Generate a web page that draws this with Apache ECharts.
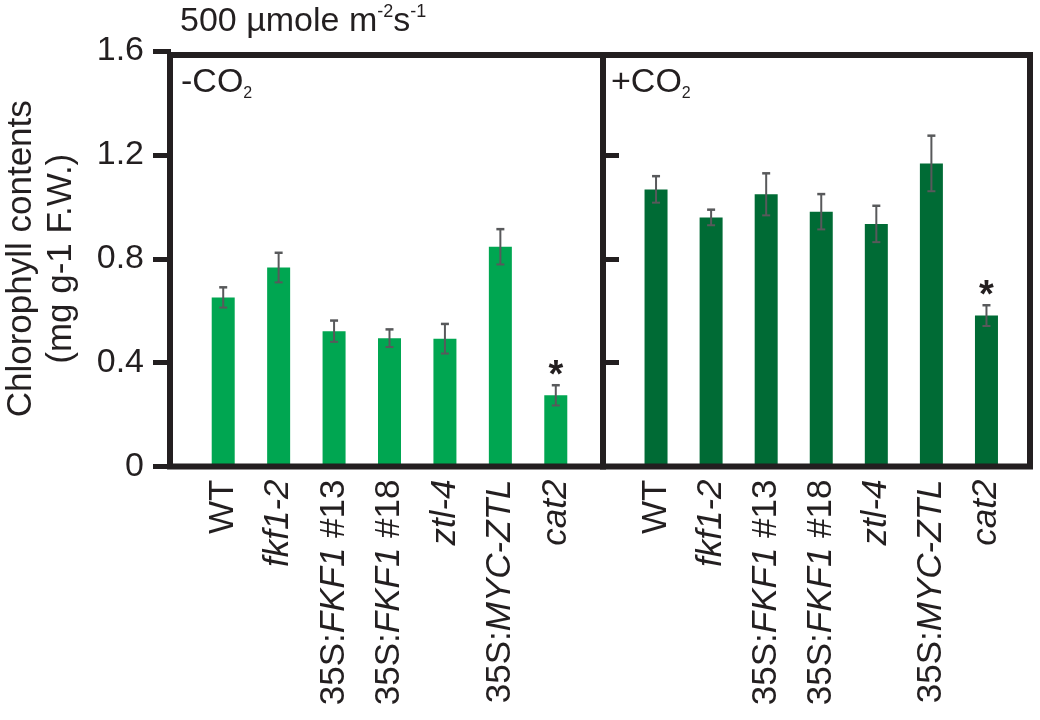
<!DOCTYPE html>
<html><head><meta charset="utf-8">
<script src="https://cdn.jsdelivr.net/npm/echarts@6/dist/echarts.min.js"></script>
<style>html,body{margin:0;padding:0;background:#fff}#c{width:1040px;height:720px}</style>
</head><body><div id="c"></div>
<script>
// ---- data ----
const categories = ['WT', 'fkf1-2', '35S:FKF1 #13', '35S:FKF1 #18', 'ztl-4', '35S:MYC-ZTL', 'cat2'];
const minusCO2 = [0.651, 0.766, 0.521, 0.494, 0.492, 0.846, 0.274];
const minusCO2Err = [0.039, 0.057, 0.041, 0.034, 0.057, 0.068, 0.039];
const plusCO2 = [1.067, 0.959, 1.048, 0.981, 0.934, 1.167, 0.581];
const plusCO2Err = [0.051, 0.030, 0.081, 0.068, 0.070, 0.107, 0.040];
const significant = [0, 0, 0, 0, 0, 0, 1];
const yTickLabels = ['0', '0.4', '0.8', '1.2', '1.6'];
const yInnerTicks = [0.4, 0.8, 1.2];

// ---- styling ----
const INK = '#231f20';
const FONT = '"Liberation Sans", Arial, Helvetica, sans-serif';
const LIGHT = '#00a651';
const DARK = '#006b35';
const ERR = '#58595b';

function fmtCat(v) {
  if (v === 'WT') return '{r|WT}';
  if (v.indexOf('35S:') === 0) {
    const rest = v.slice(4);
    const k = rest.indexOf(' #');
    if (k >= 0) return '{r|35S:}{i|' + rest.slice(0, k) + '}{r|' + rest.slice(k) + '}';
    return '{r|35S:}{i|' + rest + '}';
  }
  return '{i|' + v + '}';
}

const catRich = {
  r: { fontSize: 35, fontStyle: 'normal', color: INK, fontFamily: FONT },
  i: { fontSize: 35, fontStyle: 'italic', color: INK, fontFamily: FONT }
};

function catAxis(idx) {
  return {
    type: 'category', gridIndex: idx, data: categories,
    axisLine: { show: false }, axisTick: { show: false },
    axisLabel: { interval: 0, rotate: 90, margin: 13, formatter: fmtCat, rich: catRich }
  };
}

function errSeries(means, errs, ai) {
  return {
    type: 'custom', xAxisIndex: ai, yAxisIndex: ai, z: 3, silent: true,
    data: means.map((m, i) => [i, m, errs[i], significant[i]]),
    renderItem: function (params, api) {
      const i = api.value(0), m = api.value(1), e = api.value(2), s = api.value(3);
      const t = api.coord([i, m + e]);
      const b = api.coord([i, m - e]);
      const hw = 4;
      const st = { stroke: ERR, lineWidth: 2 };
      const ch = [
        { type: 'line', shape: { x1: t[0], y1: t[1], x2: b[0], y2: b[1] }, style: st },
        { type: 'line', shape: { x1: t[0] - hw, y1: t[1], x2: t[0] + hw, y2: t[1] }, style: { stroke: ERR, lineWidth: 2.5 } },
        { type: 'line', shape: { x1: b[0] - hw, y1: b[1], x2: b[0] + hw, y2: b[1] }, style: st }
      ];
      if (s) {
        ch.push({ type: 'text', style: { text: '*', x: t[0], y: t[1] - 9, align: 'center', verticalAlign: 'middle',
          font: 'bold 38px ' + FONT, fill: INK } });
      }
      return { type: 'group', children: ch };
    }
  };
}

const mainTok = (fs) => ({ fontSize: fs, lineHeight: 38, fontWeight: 'normal', color: INK, fontFamily: FONT });

const chart = echarts.init(document.getElementById('c'), null, { renderer: 'canvas' });
chart.setOption({
  backgroundColor: '#fff',
  animation: false,
  title: [
    { text: '{m|500 µmole m}{s|-2}{m|s}{s|-1}', left: 180, top: 3, padding: 0,
      textStyle: { fontWeight: 'normal', rich: {
        m: mainTok(34),
        s: { fontSize: 18, lineHeight: 32, verticalAlign: 'top', fontWeight: 'normal', color: INK, fontFamily: FONT } } } },
    { text: '{m|-CO}{b|2}', left: 181, top: 64, padding: 0,
      textStyle: { fontWeight: 'normal', rich: {
        m: mainTok(34),
        b: { fontSize: 16, lineHeight: 12, verticalAlign: 'bottom', fontWeight: 'normal', color: INK, fontFamily: FONT } } } },
    { text: '{m|+CO}{b|2}', left: 611, top: 64, padding: 0,
      textStyle: { fontWeight: 'normal', rich: {
        m: mainTok(34),
        b: { fontSize: 16, lineHeight: 12, verticalAlign: 'bottom', fontWeight: 'normal', color: INK, fontFamily: FONT } } } }
  ],
  grid: [
    { left: 194.5, top: 51, width: 389, height: 415.5 },
    { left: 628.5, top: 51, width: 385.5, height: 415.5 },
    { left: 170, top: 55, width: 433, height: 411.5, show: true, borderWidth: 6, borderColor: INK, backgroundColor: 'transparent', z: 10 },
    { left: 603, top: 55, width: 427, height: 411.5, show: true, borderWidth: 6, borderColor: INK, backgroundColor: 'transparent', z: 10 }
  ],
  xAxis: [
    catAxis(0), catAxis(1),
    { type: 'value', gridIndex: 2, show: false },
    { type: 'value', gridIndex: 3, show: false }
  ],
  yAxis: [
    { type: 'value', gridIndex: 0, min: 0, max: 1.6, interval: 0.4, position: 'left', offset: 24.5,
      axisLine: { show: false }, splitLine: { show: false },
      axisTick: { show: true, length: 18, lineStyle: { width: 5, color: INK } },
      axisLabel: { margin: 27, fontSize: 34, color: INK, fontFamily: FONT,
        formatter: function (v) { return yTickLabels[Math.round(v / 0.4)]; } },
      name: 'Chlorophyll contents\n(mg g-1 F.W.)', nameLocation: 'middle', nameRotate: 90, nameGap: 90,
      nameTextStyle: { fontSize: 35, lineHeight: 40, color: INK, fontFamily: FONT } },
    { type: 'value', gridIndex: 1, min: 0, max: 1.6, interval: 0.4, position: 'left', offset: 25.5,
      axisLine: { show: false }, splitLine: { show: false },
      axisTick: { show: true, inside: true, length: 16, customValues: yInnerTicks, lineStyle: { width: 5, color: INK } },
      axisLabel: { show: false } },
    { type: 'value', gridIndex: 2, show: false },
    { type: 'value', gridIndex: 3, show: false }
  ],
  series: [
    { type: 'bar', xAxisIndex: 0, yAxisIndex: 0, data: minusCO2, barWidth: 23, itemStyle: { color: LIGHT }, silent: true },
    { type: 'bar', xAxisIndex: 1, yAxisIndex: 1, data: plusCO2, barWidth: 23, itemStyle: { color: DARK }, silent: true },
    errSeries(minusCO2, minusCO2Err, 0),
    errSeries(plusCO2, plusCO2Err, 1)
  ]
});
</script>
</body></html>
